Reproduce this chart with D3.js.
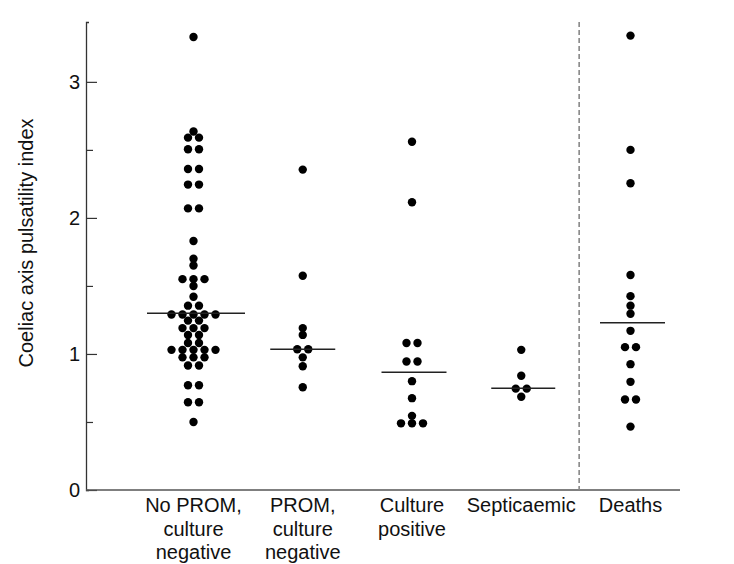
<!DOCTYPE html>
<html>
<head>
<meta charset="utf-8">
<script src="https://cdn.jsdelivr.net/npm/d3@7"></script>
<style>
  html, body { margin: 0; padding: 0; background: #fff; }
  svg { display: block; font-family: "Liberation Sans", Arial, Helvetica, sans-serif; }
</style>
</head>
<body>
<svg id="chart" width="734" height="564"></svg>
<script>
// ---- data ----
const categories = ["No PROM, culture negative", "PROM, culture negative", "Culture positive", "Septicaemic", "Deaths"];
const categoryLabels = [["No PROM,", "culture", "negative"], ["PROM,", "culture", "negative"], ["Culture", "positive"], ["Septicaemic"], ["Deaths"]];
const noPromValues = [3.33, 2.635, 2.59, 2.59, 2.505, 2.505, 2.36, 2.36, 2.245, 2.245, 2.07, 2.07,
  1.83, 1.70, 1.65, 1.55, 1.55, 1.55, 1.50, 1.42, 1.355, 1.355, 1.29, 1.29, 1.29, 1.29, 1.29,
  1.245, 1.245, 1.19, 1.19, 1.19, 1.14, 1.14, 1.08, 1.08, 1.03, 1.03, 1.03, 1.03, 1.03,
  0.975, 0.975, 0.975, 0.915, 0.915, 0.77, 0.77, 0.645, 0.645, 0.50];
const promValues = [2.355, 1.575, 1.19, 1.14, 1.035, 1.035, 0.975, 0.91, 0.755];
const culturePositiveValues = [2.56, 2.115, 1.08, 1.08, 0.945, 0.945, 0.80, 0.675, 0.545, 0.49, 0.49, 0.49];
const septicaemicValues = [1.03, 0.84, 0.745, 0.745, 0.685];
const deathsValues = [3.34, 2.50, 2.255, 1.58, 1.425, 1.355, 1.295, 1.17, 1.05, 1.05, 0.925, 0.795, 0.665, 0.665, 0.466];
const seriesValues = [noPromValues, promValues, culturePositiveValues, septicaemicValues, deathsValues];
const medianValues = [1.30, 1.035, 0.865, 0.748, 1.23];
const yTicks = [0, 1, 2, 3];
const yMinorTicks = [0.5, 1.5, 2.5];
const yTickLabels = ["0", "1", "2", "3"];
const yTitle = "Coeliac axis pulsatility index";

// ---- layout ----
const svg = d3.select("#chart");
const axisLeftX = 86, axisBottomY = 490, axisTopY = 22, axisRightX = 680;
const y = d3.scaleLinear().domain([0, 3.44]).range([axisBottomY, axisTopY]);
const x = d3.scaleLinear().domain([0, categories.length - 1]).range([193.5, 630.5]);
const dotStep = 11, dotR = 4.2;
const medianHalf = [49, 32.5, 32.5, 32, 32.5];
const medianShift = [2.5, 0, 2, 2, 2];
const inkColor = "#111";

// y axis (major)
const yAxis = d3.axisLeft(y).tickValues(yTicks).tickFormat((d, i) => yTickLabels[i])
  .tickSizeInner(-11).tickSizeOuter(-3).tickPadding(6);
const gy = svg.append("g").attr("transform", `translate(${axisLeftX},0)`).call(yAxis);
gy.select(".domain").attr("stroke", "#333").attr("stroke-width", 1.3);
gy.selectAll(".tick line").attr("stroke", "#333").attr("stroke-width", 1.2);
gy.selectAll(".tick text").attr("font-size", 20).attr("fill", inkColor)
  .attr("font-family", "'Liberation Sans', Arial, sans-serif");

// y axis minor ticks
const yMinor = d3.axisLeft(y).tickValues(yMinorTicks).tickFormat("").tickSizeInner(-7).tickSizeOuter(0);
const gym = svg.append("g").attr("transform", `translate(${axisLeftX},0)`).call(yMinor);
gym.select(".domain").remove();
gym.selectAll(".tick line").attr("stroke", "#333").attr("stroke-width", 1.2);

// y title
svg.append("text")
  .attr("transform", `translate(33,243) rotate(-90)`)
  .attr("text-anchor", "middle")
  .attr("font-size", 20).attr("fill", inkColor)
  .text(yTitle);

// x axis line
svg.append("line")
  .attr("x1", axisLeftX).attr("x2", axisRightX)
  .attr("y1", y(0)).attr("y2", y(0))
  .attr("stroke", "#555").attr("stroke-width", 1.3);

// x labels
categories.forEach((c, i) => {
  const t = svg.append("text")
    .attr("text-anchor", "middle")
    .attr("font-size", 20).attr("fill", inkColor);
  categoryLabels[i].forEach((line, j) => {
    t.append("tspan").attr("x", x(i)).attr("y", 512 + j * 23.5).text(line);
  });
});

// dashed separator between Septicaemic and Deaths
svg.append("line")
  .attr("x1", x(3.53)).attr("x2", x(3.53))
  .attr("y1", axisTopY).attr("y2", y(0))
  .attr("stroke", "#888").attr("stroke-width", 1.6)
  .attr("stroke-dasharray", "5,3");

// dots
seriesValues.forEach((vals, i) => {
  const rows = d3.groups(vals, v => v);
  const pts = [];
  rows.forEach(([v, arr]) => {
    arr.forEach((_, k) => pts.push({ v, off: (k - (arr.length - 1) / 2) * dotStep }));
  });
  svg.append("g").selectAll("circle").data(pts).join("circle")
    .attr("cx", d => x(i) + d.off)
    .attr("cy", d => y(d.v))
    .attr("r", dotR)
    .attr("fill", "#000");
});

// medians
medianValues.forEach((m, i) => {
  svg.append("line")
    .attr("x1", x(i) - medianHalf[i] + medianShift[i]).attr("x2", x(i) + medianHalf[i] + medianShift[i])
    .attr("y1", y(m)).attr("y2", y(m))
    .attr("stroke", "#222").attr("stroke-width", 1.5);
});
</script>
</body>
</html>
